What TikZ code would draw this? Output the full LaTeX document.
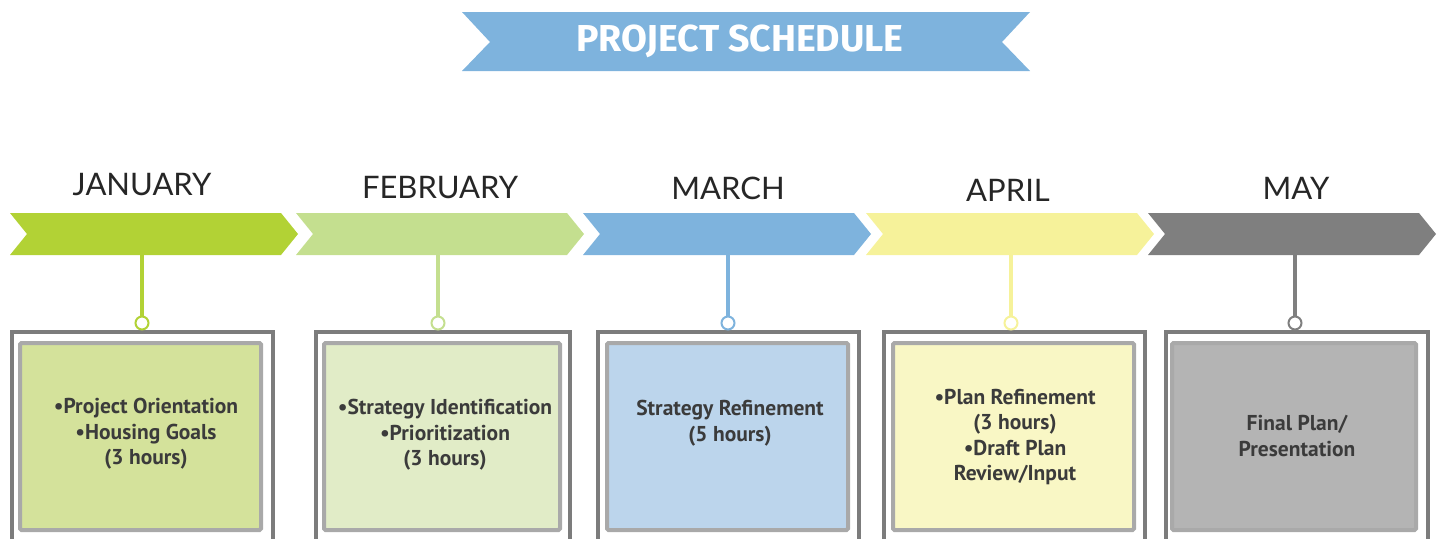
\documentclass[tikz,border=0pt]{standalone}
\usepackage{fontspec}
\setmainfont{Liberation Sans}
\newfontfamily\titlefont{Fira Sans}
\newfontfamily\monthfont{Lato}
\newfontfamily\boxfont{PT Sans}
\usetikzlibrary{fit}

\definecolor{janA}{HTML}{B2D235}
\definecolor{janB}{HTML}{D4E29B}
\definecolor{febA}{HTML}{C4DF8F}
\definecolor{febB}{HTML}{E1ECC7}
\definecolor{marA}{HTML}{7EB3DD}
\definecolor{marB}{HTML}{BCD5EC}
\definecolor{aprA}{HTML}{F6F29A}
\definecolor{aprB}{HTML}{F9F7C5}
\definecolor{mayA}{HTML}{7F7F7F}
\definecolor{mayB}{HTML}{B4B4B4}
\definecolor{frameC}{HTML}{7C7C7C}
\definecolor{innerC}{HTML}{A9A9A9}
\definecolor{ink}{HTML}{3B3B3B}
\definecolor{bannerC}{HTML}{7EB3DD}

\tikzset{
  outerbox/.style={draw=frameC, line width=4.5pt, fill=white, inner sep=0pt},
  innerbox/.style={draw=innerC, line width=4pt, rounded corners=1.5pt, inner sep=0pt},
  pin/.style={circle, fill=white, line width=2pt, minimum size=13pt, inner sep=0pt},
  stem/.style={line width=4pt},
  monthlabel/.style={font=\monthfont\fontsize{31}{36}\selectfont, text=black!85},
  boxtext/.style={font=\boxfont\bfseries\fontsize{21.5}{25.5}\selectfont, text=ink, align=center},
  titletext/.style={font=\titlefont\bfseries\fontsize{37.5}{42}\selectfont, text=white}
}

% #1 name, #2 chevron start x, #3 stem x, #4/#5 outer box left/right,
% #6/#7 inner box left/right, #8 chevron colour, #9 box fill colour
\newcommand\stage[9]{%
  \fill[#8] (#2,213) -- ++(271,0) -- ++(17,21) -- ++(-17,21) -- ++(-271,0) -- ++(17,-21) -- cycle;
  \coordinate (#1-stem) at (#3,255);
  \node[outerbox, fit={(#4,332) (#5,545)}] (#1-frame) {};
  \node[innerbox, fill=#9, fit={(#6,343) (#7,530)}] (#1-box) {};
  \node[pin, draw=#8] (#1-pin) at (#3,323) {};
  \draw[stem, #8] (#1-stem) -- (#1-pin.north);
}

\begin{document}
\begin{tikzpicture}[x=1pt, y=-1pt]
  \useasboundingbox (0,0) rectangle (1440,538);

  % title ribbon
  \fill[bannerC] (462,12) -- (1030,12) -- (1002,42) -- (1030,71) -- (462,71) -- (490,42) -- cycle;
  \node[titletext] (title) at (740,41) {PROJECT SCHEDULE};

  % timeline stages
  \stage{jan}{10}{142}{12}{273}{20}{261}{janA}{janB}
  \stage{feb}{296}{438}{316}{570}{324}{560}{febA}{febB}
  \stage{mar}{583}{728}{598}{859}{607}{848}{marA}{marB}
  \stage{apr}{866}{1011}{884}{1145}{893}{1134}{aprA}{aprB}
  \stage{may}{1148}{1295}{1166}{1428}{1172}{1416}{mayA}{mayB}

  % month names
  \node[monthlabel] (jan-label) at (142,185) {JANUARY};
  \node[monthlabel] (feb-label) at (440,188) {FEBRUARY};
  \node[monthlabel] (mar-label) at (728,188) {MARCH};
  \node[monthlabel] (apr-label) at (1008,190) {APRIL};
  \node[monthlabel] (may-label) at (1296,188) {MAY};

  % activities
  \node[boxtext] (jan-text) at (146,434) {•Project Orientation\\•Housing Goals\\(3 hours)};
  \node[boxtext] (feb-text) at (445,435) {•Strategy Identification\\•Prioritization\\(3 hours)};
  \node[boxtext] (mar-text) at (730,423) {Strategy Refinement\\(5 hours)};
  \node[boxtext] (apr-text) at (1015,437) {•Plan Refinement\\(3 hours)\\•Draft Plan\\Review/Input};
  \node[boxtext] (may-text) at (1297,436) {Final Plan/\\Presentation};
\end{tikzpicture}
\end{document}
